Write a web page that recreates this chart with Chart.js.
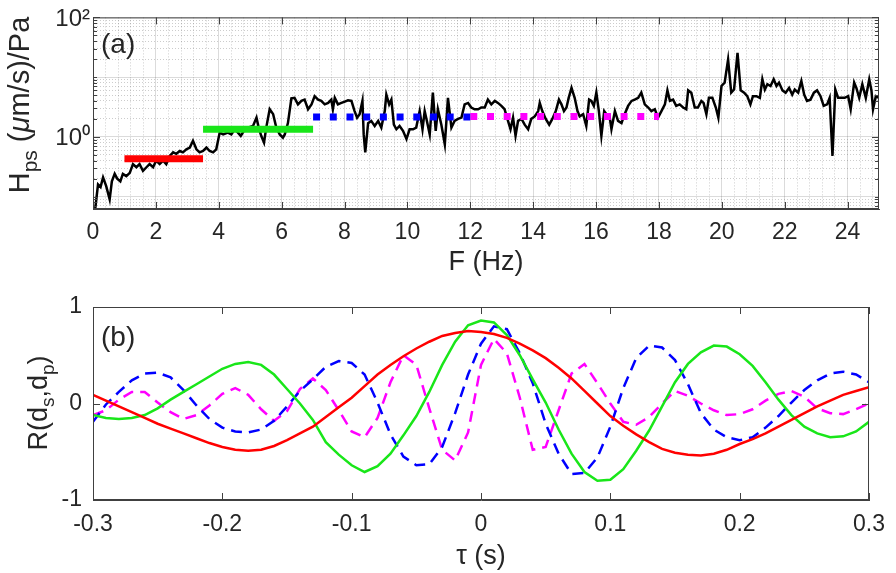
<!DOCTYPE html>
<html>
<head>
<meta charset="utf-8">
<script src="https://cdn.jsdelivr.net/npm/chart.js@4.4.1/dist/chart.umd.min.js"></script>
<style>
body { margin: 0; background: #fff; }
#top { position: absolute; left: 0; top: 0; width: 896px; height: 280px; }
#bottom { position: absolute; left: 0; top: 280px; width: 896px; height: 293px; }
</style>
</head>
<body>
<div id="top"><canvas id="hps"></canvas></div>
<div id="bottom"><canvas id="corr"></canvas></div>
<script>
// ---- panel (a): H_ps vs frequency ----
var freq = [0.07,0.16,0.24,0.32,0.42,0.53,0.60,0.69,0.77,0.87,0.95,1.06,1.17,1.27,1.38,1.48,1.59,1.70,1.80,1.91,
  2.01,2.12,2.23,2.33,2.44,2.55,2.65,2.76,2.86,2.97,3.08,3.18,3.29,3.39,3.50,3.61,3.71,3.82,3.92,4.03,
  4.14,4.29,4.40,4.51,4.61,4.70,4.80,4.93,5.09,5.20,5.27,5.35,5.44,5.51,5.62,5.73,5.83,5.94,6.04,6.10,
  6.20,6.31,6.41,6.52,6.63,6.73,6.84,6.95,7.05,7.16,7.26,7.37,7.48,7.58,7.63,7.69,7.79,7.90,8.01,8.11,
  8.22,8.32,8.40,8.48,8.57,8.61,8.66,8.75,8.85,8.96,9.07,9.17,9.28,9.33,9.42,9.49,9.57,9.65,9.75,9.86,
  9.97,10.07,10.18,10.28,10.39,10.48,10.55,10.62,10.71,10.81,10.90,10.97,11.08,11.19,11.29,11.40,11.50,11.61,11.72,11.82,
  11.93,12.03,12.14,12.25,12.35,12.46,12.56,12.67,12.78,12.88,12.99,13.09,13.20,13.28,13.36,13.44,13.52,13.63,13.73,13.84,
  13.94,14.05,14.16,14.21,14.29,14.40,14.51,14.61,14.72,14.82,14.90,14.98,15.06,15.13,15.22,15.32,15.41,15.48,15.59,15.69,
  15.78,15.85,15.93,16.01,16.09,16.17,16.26,16.33,16.42,16.49,16.60,16.70,16.81,16.91,17.02,17.13,17.23,17.34,17.44,17.55,
  17.66,17.76,17.87,17.97,18.08,18.19,18.27,18.35,18.45,18.55,18.66,18.77,18.87,18.93,19.03,19.14,19.24,19.35,19.42,19.51,
  19.59,19.70,19.81,19.89,19.99,20.09,20.20,20.30,20.39,20.50,20.60,20.71,20.81,20.91,20.99,21.10,21.21,21.29,21.37,21.45,
  21.55,21.65,21.74,21.82,21.93,22.03,22.14,22.24,22.32,22.43,22.53,22.62,22.71,22.82,22.93,23.03,23.14,23.24,23.35,23.43,
  23.52,23.61,23.70,23.81,23.91,24.02,24.10,24.21,24.28,24.37,24.47,24.58,24.69,24.76,24.81,24.90,25.00];
var hps = [0.062,0.16,0.145,0.21,0.15,0.09,0.18,0.24,0.2,0.18,0.24,0.22,0.25,0.35,0.31,0.35,0.27,0.31,0.35,0.31,
  0.4,0.35,0.4,0.35,0.48,0.55,0.52,0.58,0.55,0.62,0.66,0.86,0.62,0.55,0.58,0.66,0.58,0.55,0.62,1.18,
  1.1,1.18,1.1,1.34,1.18,1.04,1.26,1.43,1.52,2.1,1.43,1.04,0.8,1.43,2.9,2.4,1.43,1.1,0.97,1.1,
  1.7,4.4,4.5,3.5,4.0,4.2,2.9,3.5,4.8,4.2,4.0,3.5,3.7,4.2,2.9,4.5,3.5,3.7,3.9,4.1,
  4.0,2.7,2.1,2.4,4.0,1.1,0.55,1.7,1.85,1.52,1.85,1.43,2.7,5.1,3.5,4.2,1.6,1.34,1.52,1.26,
  0.92,1.34,1.34,1.43,2.7,1.34,2.7,1.85,1.1,5.5,1.26,2.9,1.6,0.75,4.5,1.43,1.85,2.0,2.1,3.5,
  3.7,3.1,2.9,2.9,3.1,3.1,4.2,3.5,4.0,3.7,3.3,2.9,1.85,1.34,2.1,1.04,1.85,2.0,1.6,1.34,
  2.0,2.2,2.7,3.7,2.7,2.0,1.6,2.0,2.7,4.2,3.5,2.7,3.1,4.5,6.6,4.5,2.7,2.2,2.4,1.52,
  4.2,4.0,3.3,5.5,2.7,1.04,2.7,2.4,2.4,1.34,2.7,1.85,1.7,2.4,3.3,4.0,4.2,4.5,5.5,3.5,
  3.1,2.7,2.9,2.1,2.7,3.5,6.0,4.0,4.2,3.3,3.5,3.1,2.9,6.0,5.5,3.1,3.1,4.0,3.7,2.4,
  4.5,4.5,3.1,2.1,7.1,8.1,19.7,5.5,6.2,25.4,6.0,5.5,4.8,3.5,4.8,4.8,4.5,9.2,6.2,7.6,
  7.1,9.2,7.1,8.1,6.0,5.5,6.6,5.1,6.2,5.5,8.6,5.1,4.0,4.2,5.5,6.0,4.8,3.3,3.5,4.5,
  0.48,6.2,4.5,4.5,4.5,4.8,2.9,8.1,6.6,4.5,7.6,4.5,9.2,6.0,2.9,4.8,4.5];

// band levels: [start F, end F, level]
var bandRed = [1, 3.5, 0.43];
var bandGreen = [3.5, 7, 1.34];
var bandBlue = [7, 12, 2.15];
var bandMagenta = [12, 18, 2.2];

var fTickLabels = ['0','2','4','6','8','10','12','14','16','18','20','22','24'];
var hTickValues = [1, 100];
var hTickLabels = ['10\u2070', '10\u00b2'];

// ---- panel (b): cross-correlation vs lag ----
var tau = [-0.30,-0.29,-0.28,-0.27,-0.26,-0.25,-0.24,-0.23,-0.22,-0.21,-0.20,-0.19,-0.18,-0.17,-0.16,-0.15,-0.14,-0.13,-0.12,-0.11,
  -0.10,-0.09,-0.08,-0.07,-0.06,-0.05,-0.04,-0.03,-0.02,-0.01,0,0.01,0.02,0.03,0.04,0.05,0.06,0.07,0.08,0.09,
  0.10,0.11,0.12,0.13,0.14,0.15,0.16,0.17,0.18,0.19,0.20,0.21,0.22,0.23,0.24,0.25,0.26,0.27,0.28,0.29,0.30];
var rRed = [0.09,0.03,-0.03,-0.09,-0.15,-0.21,-0.26,-0.31,-0.36,-0.41,-0.45,-0.48,-0.49,-0.48,-0.44,-0.38,-0.31,-0.24,-0.14,-0.04,
  0.06,0.18,0.30,0.40,0.49,0.57,0.64,0.70,0.73,0.75,0.74,0.72,0.68,0.62,0.55,0.47,0.37,0.26,0.13,0.00,
  -0.13,-0.23,-0.32,-0.40,-0.47,-0.51,-0.53,-0.54,-0.52,-0.48,-0.42,-0.37,-0.31,-0.24,-0.17,-0.10,-0.03,0.03,0.09,0.13,0.17];
var rGreen = [-0.12,-0.15,-0.16,-0.15,-0.12,-0.05,0.04,0.12,0.20,0.28,0.36,0.41,0.43,0.40,0.30,0.15,0.00,-0.17,-0.40,-0.53,
  -0.64,-0.71,-0.65,-0.52,-0.33,-0.13,0.12,0.40,0.64,0.81,0.86,0.84,0.71,0.50,0.25,0.01,-0.27,-0.52,-0.71,-0.80,
  -0.79,-0.68,-0.49,-0.28,-0.03,0.22,0.41,0.53,0.60,0.59,0.51,0.39,0.22,0.04,-0.12,-0.24,-0.31,-0.35,-0.34,-0.29,-0.19];
var rBlue = [-0.19,-0.01,0.12,0.24,0.31,0.32,0.27,0.14,-0.02,-0.16,-0.25,-0.29,-0.30,-0.27,-0.18,-0.03,0.13,0.25,0.38,0.44,
  0.42,0.30,0.01,-0.32,-0.55,-0.64,-0.63,-0.45,-0.10,0.30,0.62,0.80,0.77,0.52,0.21,-0.21,-0.52,-0.73,-0.72,-0.56,
  -0.24,0.16,0.47,0.60,0.58,0.45,0.20,-0.10,-0.27,-0.35,-0.38,-0.35,-0.25,-0.13,0.01,0.14,0.24,0.31,0.33,0.30,0.22];
var rMagenta = [-0.12,-0.07,0.04,0.12,0.12,0.01,-0.09,-0.16,-0.12,-0.02,0.10,0.16,0.09,-0.06,-0.18,-0.08,0.15,0.26,0.14,-0.07,
  -0.29,-0.35,-0.15,0.22,0.50,0.40,-0.05,-0.48,-0.59,-0.30,0.40,0.67,0.52,0.06,-0.48,-0.45,-0.07,0.31,0.41,0.21,
  0.00,-0.19,-0.22,-0.14,0.00,0.13,0.08,0.00,-0.07,-0.12,-0.11,-0.06,0.03,0.10,0.13,0.07,-0.05,-0.10,-0.11,-0.06,0.00];

var tauTicks = [-0.3, -0.2, -0.1, 0, 0.1, 0.2, 0.3];
var tauLabels = ['-0.3', '-0.2', '-0.1', '0', '0.1', '0.2', '0.3'];
var rTicks = [-1, 0, 1];
var rTickLabels = ['-1', '0', '1'];

var FONT = '"Liberation Sans", Arial, sans-serif';
var INK = '#262626';
var AXIS = '#404040';

function pts(xs, ys) {
  return xs.map(function (x, i) { return { x: x, y: ys[i] }; });
}
function band(b) {
  return [{ x: b[0], y: b[2] }, { x: b[1], y: b[2] }];
}

// draws a string made of normal / subscript / italic pieces
function drawRich(c, parts, x, y, size, rotate) {
  c.save();
  c.translate(x, y);
  if (rotate) c.rotate(-Math.PI / 2);
  c.fillStyle = INK;
  c.textBaseline = 'alphabetic';
  function fontOf(p) {
    return (p.it ? 'italic ' : '') + Math.round(p.sub ? size * 0.72 : size) + 'px ' + FONT;
  }
  var w = 0;
  parts.forEach(function (p) { c.font = fontOf(p); w += c.measureText(p.t).width; });
  var cx = -w / 2;
  parts.forEach(function (p) {
    c.font = fontOf(p);
    c.fillText(p.t, cx, p.sub ? size * 0.27 : 0);
    cx += c.measureText(p.t).width;
  });
  c.restore();
}

// box, inward ticks, panel letter and y title
var framePlugin = {
  id: 'frame',
  afterDraw: function (chart, args, opts) {
    var c = chart.ctx, a = chart.chartArea;
    var xs = chart.scales.x, ys = chart.scales.y;
    c.save();
    c.strokeStyle = AXIS;
    c.lineWidth = 1;
    c.strokeRect(a.left + 0.5, a.top + 0.5, a.right - a.left - 1, a.bottom - a.top - 1);
    c.beginPath();
    xs.ticks.forEach(function (t) {
      if (!t.label) return;
      var px = Math.round(xs.getPixelForValue(t.value)) + 0.5;
      c.moveTo(px, a.bottom); c.lineTo(px, a.bottom - 7);
      c.moveTo(px, a.top); c.lineTo(px, a.top + 7);
    });
    ys.ticks.forEach(function (t) {
      var len = t.label ? 7 : 4;
      var py = Math.round(ys.getPixelForValue(t.value)) + 0.5;
      c.moveTo(a.left, py); c.lineTo(a.left + len, py);
      c.moveTo(a.right, py); c.lineTo(a.right - len, py);
    });
    c.stroke();
    c.fillStyle = INK;
    c.font = '28px ' + FONT;
    c.textBaseline = 'alphabetic';
    c.fillText(opts.label, opts.labelX, opts.labelY);
    c.restore();
    drawRich(c, opts.title, opts.titleX, opts.titleY, opts.titleSize, true);
  }
};

// ---- ticks for panel (a) ----
var fTicks = [];
for (var k = 0; k <= 62; k++) fTicks.push({ value: Math.round(k * 4) / 10, major: k % 5 === 0 });
var hTicks = [];
[-2, -1, 0, 1, 2].forEach(function (d) {
  for (var m = 1; m <= 9; m++) {
    var v = m * Math.pow(10, d);
    if (v >= 0.062 && v <= 100) hTicks.push({ value: v, major: m === 1 });
  }
});

function gridColor(ctx) {
  return ctx.tick && ctx.tick.major ? 'rgba(0,0,0,0.14)' : 'rgba(0,0,0,0.2)';
}
function gridDash(ctx) {
  return ctx.tick && !ctx.tick.major ? [1, 2] : [];
}

new Chart(document.getElementById('hps'), {
  type: 'line',
  data: {
    datasets: [
      { data: band(bandRed), borderColor: '#ff0000', borderWidth: 7, order: 1 },
      { data: band(bandGreen), borderColor: '#19e619', borderWidth: 7, order: 1 },
      { data: band(bandBlue), borderColor: '#0000ff', borderWidth: 7, borderDash: [7, 9.7], order: 1 },
      { data: band(bandMagenta), borderColor: '#ff00ff', borderWidth: 7, borderDash: [7, 9.7], order: 1 },
      { data: pts(freq, hps), borderColor: '#000000', borderWidth: 2.5, order: 2 }
    ]
  },
  options: {
    responsive: true,
    maintainAspectRatio: false,
    animation: false,
    layout: { padding: { top: 15, right: 17, left: 0, bottom: 0 } },
    elements: { point: { radius: 0 }, line: { tension: 0, borderCapStyle: 'butt' } },
    plugins: {
      legend: { display: false },
      tooltip: { enabled: false },
      frame: {
        label: '(a)', labelX: 101, labelY: 53,
        title: [{ t: 'H' }, { t: 'ps', sub: true }, { t: ' (' }, { t: '\u03bc', it: true }, { t: 'm/s)/Pa' }],
        titleX: 29, titleY: 105, titleSize: 29
      }
    },
    scales: {
      x: {
        type: 'linear', min: 0, max: 25,
        afterBuildTicks: function (s) { s.ticks = fTicks.map(function (t) { return { value: t.value, major: t.major }; }); },
        afterFit: function (s) { s.height = 71; },
        ticks: {
          autoSkip: false, maxRotation: 0, padding: 10, color: INK,
          font: { family: FONT, size: 23 },
          callback: function (v, i, ticks) { return ticks[i].major ? fTickLabels[i / 5] : ''; }
        },
        grid: { drawTicks: false, color: gridColor },
        border: { color: AXIS, dash: gridDash },
        title: { display: true, text: 'F (Hz)', color: INK, font: { family: FONT, size: 27 }, padding: { top: 0, bottom: 1 } }
      },
      y: {
        type: 'logarithmic', min: 0.062, max: 100,
        afterBuildTicks: function (s) { s.ticks = hTicks.map(function (t) { return { value: t.value, major: t.major }; }); },
        afterFit: function (s) { s.width = 93; },
        ticks: {
          autoSkip: false, padding: 3, color: INK, labelOffset: 2,
          font: { family: FONT, size: 24 },
          callback: function (v) {
            var i = hTickValues.indexOf(v);
            return i >= 0 ? hTickLabels[i] : '';
          }
        },
        grid: { drawTicks: false, color: gridColor },
        border: { color: AXIS, dash: gridDash }
      }
    }
  },
  plugins: [framePlugin]
});

new Chart(document.getElementById('corr'), {
  type: 'line',
  data: {
    datasets: [
      { data: pts(tau, rRed), borderColor: '#ff0000', borderWidth: 2.5 },
      { data: pts(tau, rGreen), borderColor: '#19e619', borderWidth: 2.5 },
      { data: pts(tau, rBlue), borderColor: '#0000ff', borderWidth: 2.5, borderDash: [11, 7] },
      { data: pts(tau, rMagenta), borderColor: '#ff00ff', borderWidth: 2.5, borderDash: [11, 7] }
    ]
  },
  options: {
    responsive: true,
    maintainAspectRatio: false,
    animation: false,
    layout: { padding: { top: 27, right: 17, left: 0, bottom: 0 } },
    elements: { point: { radius: 0 }, line: { tension: 0 } },
    plugins: {
      legend: { display: false },
      tooltip: { enabled: false },
      frame: {
        label: '(b)', labelX: 101, labelY: 66,
        title: [{ t: 'R(d' }, { t: 's', sub: true }, { t: ',d' }, { t: 'p', sub: true }, { t: ')' }],
        titleX: 47, titleY: 123, titleSize: 27
      }
    },
    scales: {
      x: {
        type: 'linear', min: -0.3, max: 0.3,
        afterBuildTicks: function (s) { s.ticks = tauTicks.map(function (v) { return { value: v }; }); },
        afterFit: function (s) { s.height = 73; },
        ticks: {
          autoSkip: false, maxRotation: 0, padding: 11, color: INK,
          font: { family: FONT, size: 23 },
          callback: function (v, i) { return tauLabels[i]; }
        },
        grid: { display: false, drawTicks: false },
        border: { color: AXIS },
        title: { display: true, text: '\u03c4 (s)', color: INK, font: { family: FONT, size: 27 }, padding: { top: 0, bottom: 0 } }
      },
      y: {
        type: 'linear', min: -1, max: 1,
        afterBuildTicks: function (s) { s.ticks = rTicks.map(function (v) { return { value: v }; }); },
        afterFit: function (s) { s.width = 93; },
        ticks: {
          autoSkip: false, padding: 11, color: INK,
          font: { family: FONT, size: 23 },
          callback: function (v, i) { return rTickLabels[i]; }
        },
        grid: { display: false, drawTicks: false },
        border: { color: AXIS }
      }
    }
  },
  plugins: [framePlugin]
});
</script>
</body>
</html>
